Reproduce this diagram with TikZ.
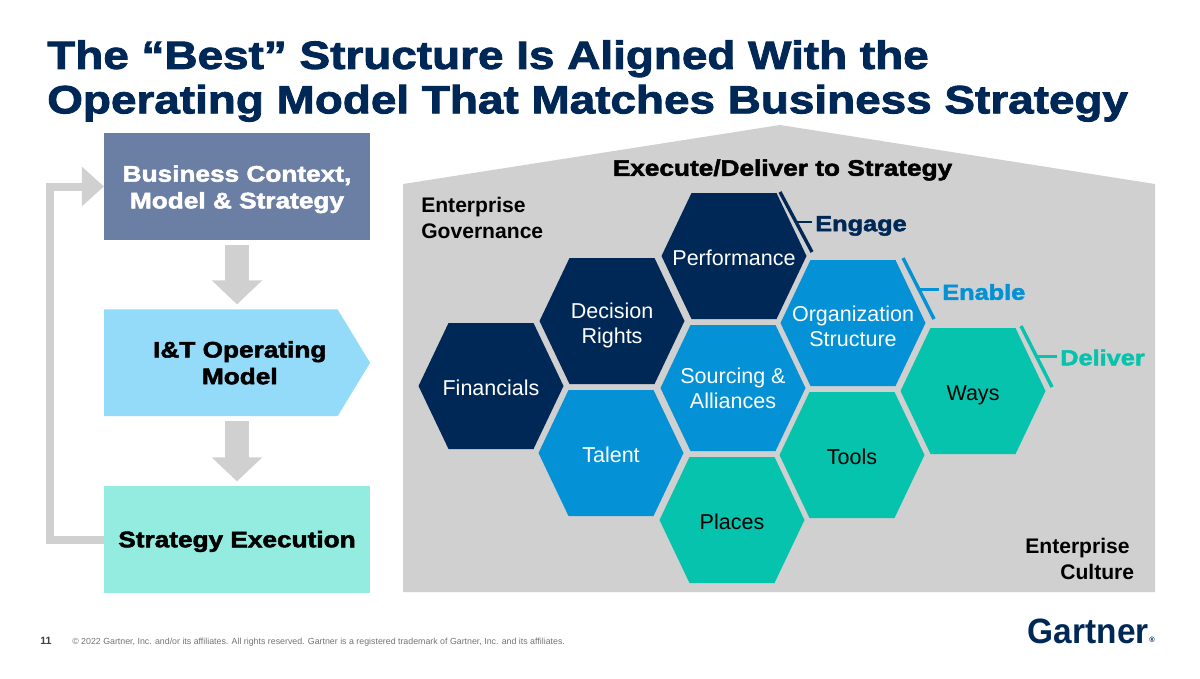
\documentclass[tikz,border=0pt]{standalone}
\usepackage{xcolor}
\usepackage{fontspec}
\setmainfont{Liberation Sans}
\newfontfamily\heavyfont[FakeBold=2.2,FakeStretch=1.165]{Liberation Sans Bold}
\newfontfamily\logofont[FakeStretch=0.95]{Liberation Sans Bold}
\usetikzlibrary{positioning, arrows.meta, shapes.symbols}

\definecolor{navy}{HTML}{002856}
\definecolor{midblue}{HTML}{0591D6}
\definecolor{teal}{HTML}{05C3AD}
\definecolor{slate}{HTML}{6B7EA3}
\definecolor{skyblue}{HTML}{93DBF9}
\definecolor{mint}{HTML}{93ECDF}
\definecolor{housegrey}{HTML}{D0D0D0}

% [label options], name, fill colour, text colour, centre, label
\newcommand{\hexcell}[6][]{%
    \fill[#3, shift={#5}] (-72.5,0) -- (-42.5,-63) -- (42.5,-63) -- (72.5,0) -- (42.5,63) -- (-42.5,63) -- cycle;
    \node[hexlabel, text=#4, #1] (#2) at #5 {#6};
}

\begin{document}
\begin{tikzpicture}[
        x=0.025cm, y=-0.025cm,
        hexlabel/.style={inner sep=0pt, yshift=-0.1cm, align=center, execute at begin node=\strut, execute at end node=\strut, font=\fontsize{15.3}{18}\selectfont},
        stage/.style={rectangle, minimum width=6.65cm, minimum height=2.67cm, inner sep=0pt, outer sep=0pt, align=center, font=\heavyfont\fontsize{16}{19}\selectfont},
        flow/.style={draw=housegrey, line width=0.6cm, -{Triangle[length=0.6cm, width=1.225cm]}, shorten <=0.125cm, shorten >=0.125cm},
        loopback/.style={draw=housegrey, line width=0.2cm, -{Triangle[length=0.55cm, width=0.95cm]}},
        bracket/.style={line width=0.085cm},
        tick/.style={line width=0.07cm},
        tier/.style={inner sep=0.075cm, anchor=west, font=\heavyfont\fontsize{15.45}{18}\selectfont},
        plainlabel/.style={inner sep=0pt, align=left, font=\bfseries\fontsize{15}{18.5}\selectfont}
    ]
        \useasboundingbox (0,0) rectangle (1200,678);

        % Title
        \node[anchor=west, inner sep=0pt, align=left, text=navy, font=\heavyfont\fontsize{28}{31.6}\selectfont] (title) at (47,81) {The “Best” Structure Is Aligned With the\\Operating Model That Matches Business Strategy};

        % Left column
        \node[stage, fill=slate, text=white] (context) at (237,186.5) {\rule{0pt}{15.5pt}Business Context,\\Model \& Strategy};
        \node[stage, fill=skyblue, signal, signal to=east, signal pointer angle=117.4, anchor=west] (model) at (104,362.8) {\hspace*{0.95cm}I\&T Operating\\\hspace*{0.95cm}Model};
        \node[stage, fill=mint, below=6.16cm of context] (execution) {\rule{0pt}{14pt}Strategy Execution};

        \draw[flow] (context.south) -- (context.south |- model.north);
        \draw[flow] (context.south |- model.south) -- (execution.north);
        \draw[loopback] (execution.west) -- ++(-54,0) |- (context.west);

        % House
        \fill[housegrey] (403,184) -- (780,125) -- (1155,184) -- (1155,592) -- (403,592) -- cycle;
        \node[inner sep=0pt, font=\heavyfont\fontsize{16}{18}\selectfont] (strategyline) at (782.5,170) {Execute/Deliver to Strategy};
        \node[plainlabel, anchor=north west] (governance) at (421,197) {Enterprise\\Governance};
        \node[plainlabel, anchor=north west] (culture) at (1025,537.5) {Enterprise\\\hspace*{0.875cm}Culture};

        % Hexagons
        \hexcell{financials}{navy}{white}{(491,386)}{Financials}
        \hexcell[yshift=-0.05cm]{rights}{navy}{white}{(612,321)}{Decision\\Rights}
        \hexcell{performance}{navy}{white}{(734,256)}{Performance}
        \hexcell{talent}{midblue}{white}{(611,453)}{Talent}
        \hexcell{sourcing}{midblue}{white}{(733,388)}{Sourcing \&\\Alliances}
        \hexcell[yshift=-0.075cm]{organization}{midblue}{white}{(853,323)}{Organization\\Structure}
        \hexcell{places}{teal}{black}{(732,520)}{Places}
        \hexcell{tools}{teal}{black}{(852,455)}{Tools}
        \hexcell{ways}{teal}{black}{(973,391)}{Ways}

        % Brackets
        \node[tier, text=navy] (engage) at (812,226) {Engage};
        \draw[navy, bracket] (780,192) -- coordinate[pos=0.5] (engagemid) (812,252);
        \draw[navy, tick] (engagemid) -- (engagemid -| engage.west);

        \node[tier, text=midblue] (enable) at (939,292) {Enable};
        \draw[midblue, bracket] (903,258) -- coordinate[pos=0.52] (enablemid) (934,319);
        \draw[midblue, tick] (enablemid) -- (enablemid -| enable.west);

        \node[tier, text=teal] (deliverlabel) at (1057,357.5) {Deliver};
        \draw[teal, bracket] (1021,326) -- coordinate[pos=0.5] (delivermid) (1052,387);
        \draw[teal, tick] (delivermid) -- (delivermid -| deliverlabel.west);

        % Footer
        \node[anchor=west, inner sep=0pt, text=black!75, font=\bfseries\fontsize{7.5}{10}\selectfont] (page) at (40,641) {11};
        \node[anchor=west, inner sep=0pt, text=black!55, font=\fontsize{6.27}{8}\selectfont] (copyright) at (72,642.5) {© 2022 Gartner, Inc. and/or its affiliates. All rights reserved. Gartner is a registered trademark of Gartner, Inc. and its affiliates.};
        \node[anchor=east, inner sep=0pt, text=navy, font=\logofont\fontsize{25}{30}\selectfont] (logo) at (1155,631) {Gartner\kern0.5pt\raisebox{0.05ex}{\fontsize{5.5}{6}\selectfont ®}};
\end{tikzpicture}
\end{document}
